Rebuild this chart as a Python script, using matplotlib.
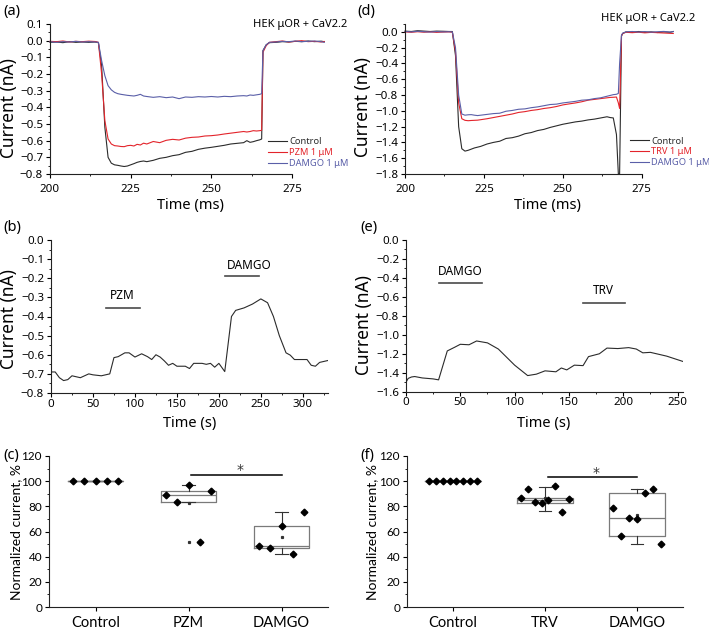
import numpy as np
import matplotlib.pyplot as plt
from matplotlib.ticker import MultipleLocator, FuncFormatter

# ---- (a) HEK muOR + CaV2.2, PZM ----
t_a = [200, 202, 204, 206, 208, 210, 212, 214, 215, 216, 217, 218, 219, 220, 221, 222, 223, 224,
       225, 226, 227, 228, 229, 230, 232, 234, 236, 238, 240, 242, 244, 246, 248, 250, 252, 254,
       256, 258, 260, 261, 262, 263, 264, 265, 265.6, 266, 267, 268, 270, 272, 274, 276, 278, 280,
       282, 284, 285]
ctrl_a = [-0.010, -0.008, -0.012, -0.006, -0.010, -0.008, -0.010, -0.008, -0.012, -0.150, -0.520,
          -0.700, -0.735, -0.745, -0.748, -0.752, -0.755, -0.752, -0.745, -0.738, -0.730, -0.725,
          -0.722, -0.726, -0.718, -0.706, -0.700, -0.690, -0.684, -0.670, -0.664, -0.652, -0.645,
          -0.640, -0.634, -0.628, -0.620, -0.616, -0.612, -0.600, -0.610, -0.606, -0.600, -0.595,
          -0.590, -0.060, -0.025, -0.012, -0.010, -0.006, -0.008, -0.004, -0.006, -0.002, -0.006,
          -0.003, -0.006]
pzm_a = [-0.004, -0.006, -0.002, -0.008, -0.004, -0.006, -0.003, -0.005, -0.010, -0.200, -0.480,
         -0.590, -0.620, -0.630, -0.632, -0.635, -0.636, -0.630, -0.628, -0.632, -0.622, -0.626,
         -0.615, -0.620, -0.605, -0.612, -0.598, -0.592, -0.596, -0.585, -0.580, -0.578, -0.572,
         -0.570, -0.566, -0.560, -0.555, -0.550, -0.545, -0.548, -0.545, -0.540, -0.542, -0.540,
         -0.538, -0.070, -0.030, -0.010, -0.006, -0.002, -0.008, -0.004, 0.000, -0.006, -0.004,
         -0.008, -0.005]
damgo_a = [-0.006, -0.010, -0.006, -0.008, -0.004, -0.008, -0.006, -0.008, -0.010, -0.120, -0.210,
           -0.270, -0.295, -0.310, -0.318, -0.322, -0.325, -0.328, -0.330, -0.332, -0.328, -0.322,
           -0.332, -0.335, -0.340, -0.336, -0.342, -0.338, -0.348, -0.338, -0.340, -0.336, -0.338,
           -0.335, -0.338, -0.334, -0.336, -0.332, -0.330, -0.332, -0.326, -0.328, -0.325, -0.322,
           -0.318, -0.060, -0.025, -0.010, -0.008, -0.004, -0.006, -0.002, -0.006, -0.004, -0.002,
           -0.006, -0.010]

# ---- (d) HEK muOR + CaV2.2, TRV ----
t_d = [200, 202, 204, 206, 208, 210, 212, 214, 215, 216, 217, 218, 219, 220, 221, 222, 223, 224,
       226, 228, 230, 232, 234, 236, 238, 240, 242, 244, 246, 248, 250, 252, 254, 256, 258, 260,
       262, 264, 265, 266, 267, 267.6, 268, 268.6, 269, 270, 272, 274, 276, 278, 280, 282, 284, 285]
ctrl_d = [0.010, 0.005, 0.015, 0.010, 0.005, 0.010, 0.008, 0.005, 0.005, -0.300, -1.200, -1.480,
          -1.510, -1.500, -1.485, -1.470, -1.460, -1.450, -1.420, -1.400, -1.385, -1.350, -1.340,
          -1.320, -1.290, -1.275, -1.250, -1.235, -1.210, -1.190, -1.170, -1.155, -1.140, -1.130,
          -1.115, -1.105, -1.090, -1.075, -1.085, -1.090, -1.300, -1.800, -1.800, -0.050, -0.020,
          0.000, -0.005, 0.005, -0.005, 0.000, -0.008, 0.000, -0.005, 0.005]
trv_d = [0.000, -0.005, 0.002, -0.004, 0.000, -0.006, -0.002, 0.000, -0.004, -0.250, -0.900,
         -1.100, -1.120, -1.125, -1.122, -1.120, -1.118, -1.112, -1.100, -1.085, -1.070, -1.055,
         -1.040, -1.020, -1.010, -0.995, -0.985, -0.970, -0.960, -0.945, -0.925, -0.912, -0.900,
         -0.885, -0.865, -0.855, -0.845, -0.835, -0.830, -0.828, -0.825, -0.900, -0.970, -0.050,
         -0.020, -0.005, -0.010, -0.004, -0.012, -0.006, -0.010, -0.014, -0.018, -0.020]
damgo_d = [0.005, 0.000, 0.008, 0.002, -0.002, 0.004, 0.000, 0.002, 0.000, -0.200, -0.800, -1.040,
           -1.055, -1.050, -1.048, -1.055, -1.060, -1.055, -1.045, -1.035, -1.030, -1.005, -0.995,
           -0.980, -0.975, -0.960, -0.950, -0.935, -0.920, -0.915, -0.900, -0.890, -0.880, -0.865,
           -0.860, -0.845, -0.835, -0.815, -0.805, -0.795, -0.790, -0.780, -0.400, -0.040, -0.015,
           0.000, 0.005, -0.002, 0.004, -0.004, 0.002, 0.006, -0.002, 0.004]

# ---- (b) time course PZM / DAMGO ----
t_b = [0, 5, 10, 15, 20, 25, 35, 45, 50, 60, 65, 70, 75, 80, 88, 93, 100, 108, 115, 120, 125,
       130, 135, 140, 145, 150, 160, 165, 170, 180, 185, 190, 195, 200, 207, 215, 220, 230, 240,
       250, 258, 265, 272, 280, 285, 290, 300, 305, 310, 315, 320, 330]
i_b = [-0.690, -0.690, -0.720, -0.735, -0.730, -0.710, -0.720, -0.700, -0.705, -0.710, -0.705,
       -0.700, -0.615, -0.610, -0.590, -0.590, -0.612, -0.595, -0.610, -0.625, -0.600, -0.612,
       -0.632, -0.655, -0.645, -0.660, -0.660, -0.672, -0.645, -0.645, -0.650, -0.645, -0.665,
       -0.645, -0.688, -0.400, -0.368, -0.355, -0.335, -0.308, -0.328, -0.400, -0.500, -0.590,
       -0.602, -0.625, -0.625, -0.625, -0.655, -0.660, -0.640, -0.630]

# ---- (e) time course DAMGO / TRV ----
t_e = [0, 2, 5, 8, 15, 25, 30, 38, 45, 50, 58, 65, 75, 85, 100, 112, 120, 128, 138, 143, 148, 155,
       163, 168, 178, 185, 195, 205, 212, 218, 225, 240, 256]
i_e = [-1.500, -1.460, -1.445, -1.440, -1.455, -1.465, -1.475, -1.170, -1.130, -1.100, -1.105,
       -1.065, -1.085, -1.150, -1.320, -1.430, -1.415, -1.380, -1.390, -1.350, -1.370, -1.320,
       -1.325, -1.230, -1.200, -1.140, -1.145, -1.135, -1.150, -1.190, -1.185, -1.225, -1.285]

# ---- (c), (f) normalized currents ----
groups_c = ["Control", "PZM", "DAMGO"]
c_control = [100, 100, 100, 100, 100]
c_pzm = [89.0, 83.2, 96.7, 51.4, 92.4]
c_damgo = [48.7, 46.6, 64.4, 42.1, 75.8]
# box stats: q1, median, q3, whisker low, whisker high
c_q1 = [100, 83.2, 46.6]
c_med = [100, 89.2, 48.7]
c_q3 = [100, 92.4, 64.4]
c_wlo = [100, 83.2, 42.1]
c_whi = [100, 97.0, 75.8]
c_out = [[], [51.4], []]

groups_f = ["Control", "TRV", "DAMGO"]
f_control = [100, 100, 100, 100, 100, 100, 100, 100]
f_trv = [86.6, 94.0, 83.7, 82.7, 84.8, 96.4, 75.8, 85.9]
f_damgo = [78.5, 56.4, 71.0, 69.7, 90.6, 93.8, 50.3]
f_q1 = [100, 82.4, 56.7]
f_med = [100, 84.8, 71.0]
f_q3 = [100, 86.9, 90.6]
f_wlo = [100, 76.1, 50.3]
f_whi = [100, 95.4, 93.8]
f_out = [[], [], []]

BLACK = "#2b2b2b"
RED = "#e3242b"
BLUE = "#5a5fa8"
BARC = "#4a4a4a"
FONT = "Noto Sans"
FONT2 = "Lato"

W, H = 709, 629
fig = plt.figure(figsize=(W / 100, H / 100), dpi=100)


def box(l, t, r, b):
    return [l / W, 1 - b / H, (r - l) / W, (b - t) / H]


def ftext(x, y, s, **kw):
    fig.text(x / W, 1 - y / H, s, **kw)


def minus_fmt(v, p):
    s = "%.1f" % v
    if s == "-0.0":
        s = "0.0"
    return s.replace("-", "\u2212")


def style(ax, font, size, xpad=1.5):
    for sp in ["top", "right"]:
        ax.spines[sp].set_visible(False)
    for sp in ["left", "bottom"]:
        ax.spines[sp].set_linewidth(0.8)
        ax.spines[sp].set_color("#222222")
    ax.tick_params(which="major", direction="out", length=3, width=0.8, labelsize=size, pad=2)
    ax.tick_params(axis="x", which="major", pad=xpad)
    ax.tick_params(which="minor", direction="out", length=1.6, width=0.6)
    for lab in ax.get_xticklabels() + ax.get_yticklabels():
        lab.set_fontfamily(font)


# ----- trace panels -----
ax_a = fig.add_axes(box(50, 24, 292, 174))
ax_a.plot(t_a, ctrl_a, color=BLACK, lw=0.8, clip_on=False, label="Control")
ax_a.plot(t_a, pzm_a, color=RED, lw=0.8, clip_on=False, label="PZM 1 \u03bcM")
ax_a.plot(t_a, damgo_a, color=BLUE, lw=0.8, clip_on=False, label="DAMGO 1 \u03bcM")
ax_a.set_xlim(200, 275)
ax_a.set_ylim(-0.8, 0.1)
ax_a.xaxis.set_major_locator(MultipleLocator(25))
ax_a.xaxis.set_minor_locator(MultipleLocator(12.5))
ax_a.yaxis.set_major_locator(MultipleLocator(0.1))
ax_a.yaxis.set_minor_locator(MultipleLocator(0.05))
ax_a.yaxis.set_major_formatter(FuncFormatter(minus_fmt))

ax_d = fig.add_axes(box(405, 24, 641.7, 174))
ax_d.plot(t_d, ctrl_d, color=BLACK, lw=0.8, clip_on=False, label="Control")
ax_d.plot(t_d, trv_d, color=RED, lw=0.8, clip_on=False, label="TRV 1 \u03bcM")
ax_d.plot(t_d, damgo_d, color=BLUE, lw=0.8, clip_on=False, label="DAMGO 1 \u03bcM")
ax_d.set_xlim(200, 275)
ax_d.set_ylim(-1.8, 0.1)
ax_d.xaxis.set_major_locator(MultipleLocator(25))
ax_d.xaxis.set_minor_locator(MultipleLocator(12.5))
ax_d.set_yticks(np.arange(-1.8, 0.01, 0.2))
ax_d.yaxis.set_minor_locator(MultipleLocator(0.1))
ax_d.yaxis.set_major_formatter(FuncFormatter(minus_fmt))

for ax, lx, ly in [(ax_a, 268, 137.5), (ax_d, 630, 136.5)]:
    ax.legend(loc="upper left", bbox_to_anchor=(lx / W, 1 - ly / H),
              bbox_transform=fig.transFigure, frameon=False,
              handlelength=2.0, handletextpad=0.25, labelspacing=0.2,
              borderpad=0, borderaxespad=0, labelcolor="linecolor",
              prop={"family": FONT, "size": 6.7})

ftext(347, 25, "HEK \u03bcOR + CaV2.2", ha="right", va="center", fontsize=8, family=FONT)
ftext(695, 19, "HEK \u03bcOR + CaV2.2", ha="right", va="center", fontsize=8, family=FONT)

ax_b = fig.add_axes(box(51, 240, 328, 393))
ax_b.plot(t_b, i_b, color=BLACK, lw=0.8)
ax_b.set_xlim(0, 330)
ax_b.set_ylim(-0.8, 0.0)
ax_b.xaxis.set_major_locator(MultipleLocator(50))
ax_b.xaxis.set_minor_locator(MultipleLocator(25))
ax_b.yaxis.set_major_locator(MultipleLocator(0.1))
ax_b.yaxis.set_minor_locator(MultipleLocator(0.05))
ax_b.yaxis.set_major_formatter(FuncFormatter(minus_fmt))
ax_b.plot([65.4, 105.7], [-0.353, -0.353], color=BARC, lw=1.2)
ax_b.plot([207, 248], [-0.189, -0.189], color=BARC, lw=1.2)
ax_b.text(84.6, -0.29, "PZM", ha="center", va="center", fontsize=8.5, family=FONT)
ax_b.text(236, -0.135, "DAMGO", ha="center", va="center", fontsize=8.5, family=FONT)

ax_e = fig.add_axes(box(406, 240, 683, 391.7))
ax_e.plot(t_e, i_e, color=BLACK, lw=0.8)
ax_e.set_xlim(0, 255)
ax_e.set_ylim(-1.6, 0.0)
ax_e.xaxis.set_major_locator(MultipleLocator(50))
ax_e.xaxis.set_minor_locator(MultipleLocator(25))
ax_e.yaxis.set_major_locator(MultipleLocator(0.2))
ax_e.yaxis.set_minor_locator(MultipleLocator(0.1))
ax_e.yaxis.set_major_formatter(FuncFormatter(minus_fmt))
ax_e.plot([30.7, 70.2], [-0.458, -0.458], color=BARC, lw=1.2)
ax_e.plot([162.6, 202], [-0.662, -0.662], color=BARC, lw=1.2)
ax_e.text(50, -0.33, "DAMGO", ha="center", va="center", fontsize=8.5, family=FONT)
ax_e.text(182, -0.535, "TRV", ha="center", va="center", fontsize=8.5, family=FONT)

for ax in [ax_a, ax_d]:
    style(ax, FONT, 8.3, xpad=4.5)
for ax in [ax_b, ax_e]:
    style(ax, FONT, 8.3, xpad=1)

ftext(9, 108, "Current (nA)", rotation=90, ha="center", va="center", fontsize=12.5, family=FONT)
ftext(363, 107, "Current (nA)", rotation=90, ha="center", va="center", fontsize=12.5, family=FONT)
ftext(9, 319, "Current (nA)", rotation=90, ha="center", va="center", fontsize=12.5, family=FONT)
ftext(364, 325, "Current (nA)", rotation=90, ha="center", va="center", fontsize=12.5, family=FONT)
ftext(190, 205, "Time (ms)", ha="center", va="center", fontsize=10.5, family=FONT)
ftext(547, 205, "Time (ms)", ha="center", va="center", fontsize=10.5, family=FONT)
ftext(190, 423, "Time (s)", ha="center", va="center", fontsize=10.5, family=FONT)
ftext(544, 423, "Time (s)", ha="center", va="center", fontsize=10.5, family=FONT)


# ----- box panels -----
def box_panel(rect, groups, data, q1, med, q3, wlo, whi, outs, sig_y, star_y):
    ax = fig.add_axes(rect)
    stats = []
    for i in range(3):
        stats.append({"q1": q1[i], "med": med[i], "q3": q3[i], "whislo": wlo[i],
                      "whishi": whi[i], "fliers": outs[i], "mean": np.mean(data[i])})
    ax.bxp(stats, positions=[1, 2, 3], widths=0.6, capwidths=0.13, showmeans=True,
           boxprops={"color": "#7a7a7a", "linewidth": 0.9},
           medianprops={"color": "#7a7a7a", "linewidth": 0.9},
           whiskerprops={"color": "#333333", "linewidth": 0.8},
           capprops={"color": "#333333", "linewidth": 0.8},
           meanprops={"marker": "s", "markersize": 1.3, "markerfacecolor": "#333333",
                      "markeredgecolor": "#333333"},
           flierprops={"marker": "s", "markersize": 1.3, "markerfacecolor": "#333333",
                       "markeredgecolor": "#333333"})
    for i, vals in enumerate(data):
        n = len(vals)
        half = 0.24 if n <= 5 else 0.265
        xs = (i + 1) + np.linspace(-half, half, n)
        ax.plot(xs, vals, "D", color="black", markersize=3.4, zorder=5, clip_on=False)
    ax.plot([2.03, 3.0], [sig_y, sig_y], color="black", lw=1.1)
    ax.text(2.55, star_y, "*", ha="center", va="center", fontsize=10, family="DejaVu Sans",
            color="#333333")
    ax.set_xlim(0.5, 3.5)
    ax.set_ylim(0, 120)
    ax.set_xticks([1, 2, 3])
    ax.set_xticklabels(groups)
    ax.yaxis.set_major_locator(MultipleLocator(20))
    ax.yaxis.set_minor_locator(MultipleLocator(10))
    style(ax, FONT2, 8.5)
    ax.tick_params(axis="x", labelsize=10.5, pad=3.5)
    return ax


ax_c = box_panel(box(49, 456, 328, 607), groups_c, [c_control, c_pzm, c_damgo],
                 c_q1, c_med, c_q3, c_wlo, c_whi, c_out, 105, 108.5)
ax_f = box_panel(box(407, 456, 683, 607), groups_f, [f_control, f_trv, f_damgo],
                 f_q1, f_med, f_q3, f_wlo, f_whi, f_out, 103, 106.5)

ftext(16, 532, "Normalized current, %", rotation=90, ha="center", va="center", fontsize=10, family=FONT2)
ftext(372, 532, "Normalized current, %", rotation=90, ha="center", va="center", fontsize=10, family=FONT2)

# panel letters
for lx, ly, s in [(3, 12, "(a)"), (357, 12, "(d)"), (3, 228, "(b)"), (360, 227, "(e)"),
                  (3, 456, "(c)"), (360, 456, "(f)")]:
    ftext(lx, ly, s, ha="left", va="center", fontsize=10.5, family=FONT)

fig.savefig("out.png", dpi=100)
